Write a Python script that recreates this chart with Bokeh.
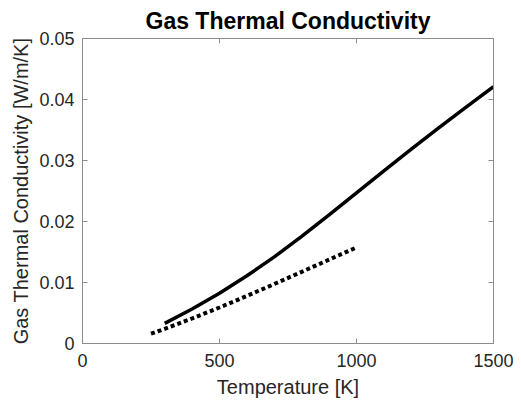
from bokeh.plotting import figure
from bokeh.models import LinearAxis, FixedTicker, Range1d, CustomJSTickFormatter
from bokeh.embed import file_html
from bokeh.resources import INLINE

# Data
temp_solid = [300, 400, 500, 600, 700, 800, 900, 1000, 1100, 1200, 1300, 1400, 1500]
k_solid = [0.00330, 0.00565, 0.00825, 0.01110, 0.01420, 0.01755, 0.02110, 0.02470,
           0.02830, 0.03185, 0.03535, 0.03875, 0.04210]
temp_dotted = [250, 300, 400, 500, 600, 700, 800, 900, 1000]
k_dotted = [0.0016, 0.0024, 0.0041, 0.0059, 0.0078, 0.00975, 0.01175, 0.01375, 0.01575]
x_ticks = [0, 500, 1000, 1500]
y_ticks = [0, 0.01, 0.02, 0.03, 0.04, 0.05]
y_tick_labels = {0: "0", 0.01: "0.01", 0.02: "0.02", 0.03: "0.03", 0.04: "0.04", 0.05: "0.05"}

FONT = "Liberation Sans"
AX = "#8c8c8c"
TXT = "#262626"

p = figure(width=521, height=407, output_backend="svg", toolbar_location=None,
           x_range=Range1d(0, 1500), y_range=Range1d(0, 0.05),
           x_axis_label="Temperature [K]",
           y_axis_label="Gas Thermal Conductivity [W/m/K]",
           title="Gas Thermal Conductivity",
           min_border_left=82, min_border_right=28, min_border_top=35, min_border_bottom=64)

p.line(temp_solid, k_solid, line_color="black", line_width=3.5)
p.line(temp_dotted, k_dotted, line_color="black", line_width=4, line_dash="4 3")

p.grid.visible = False
p.outline_line_color = AX
p.outline_line_width = 1
p.background_fill_color = "white"
p.border_fill_color = "white"

p.title.align = "center"
p.title.text_font = FONT
p.title.text_font_size = "23px"
p.title.text_font_style = "bold"
p.title.text_color = "black"

def style(ax, labels=True):
    ax.axis_line_color = AX
    ax.major_tick_line_color = AX
    ax.major_tick_in = 5
    ax.major_tick_out = 0
    ax.minor_tick_line_color = None
    ax.major_label_text_font = FONT
    ax.major_label_text_color = TXT
    ax.axis_label_text_font = FONT
    ax.axis_label_text_color = TXT
    ax.axis_label_text_font_style = "normal"
    ax.major_label_text_font_size = "18px"
    ax.axis_label_text_font_size = "20px"
    if not labels:
        ax.formatter = CustomJSTickFormatter(code="return ''")
        ax.major_label_standoff = 0

xa = p.xaxis[0]
xa.ticker = FixedTicker(ticks=x_ticks)
style(xa)
xa.major_label_standoff = 10
xa.axis_label_standoff = 6

ya = p.yaxis[0]
ya.ticker = FixedTicker(ticks=y_ticks)
ya.major_label_overrides = y_tick_labels
style(ya)
ya.major_label_standoff = 8
ya.axis_label_standoff = 4

top = LinearAxis(ticker=FixedTicker(ticks=x_ticks))
style(top, labels=False)
p.add_layout(top, "above")
right = LinearAxis(ticker=FixedTicker(ticks=y_ticks))
style(right, labels=False)
p.add_layout(right, "right")

open("out.html", "w").write(file_html(p, INLINE))
